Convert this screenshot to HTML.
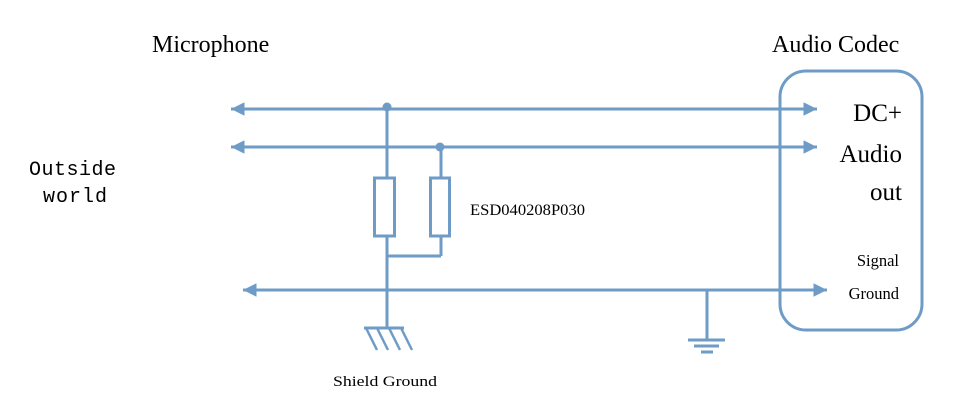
<!DOCTYPE html>
<html><head><meta charset="utf-8"><style>
html,body{margin:0;padding:0;background:#fff;width:957px;height:406px;overflow:hidden}
</style></head><body>
<svg width="957" height="406" viewBox="0 0 957 406" xmlns="http://www.w3.org/2000/svg">
<defs>
<marker id="a" viewBox="0 0 10 10" refX="10" refY="5" markerWidth="5" markerHeight="4.5" orient="auto-start-reverse" markerUnits="strokeWidth"><path d="M0,0 L10,5 L0,10 z" fill="#6f9cc6"/></marker>
</defs>
<g stroke="#6f9cc6" stroke-width="3" fill="none">
<line x1="231" y1="109" x2="817" y2="109" marker-start="url(#a)" marker-end="url(#a)"/>
<line x1="231" y1="147" x2="817" y2="147" marker-start="url(#a)" marker-end="url(#a)"/>
<line x1="243" y1="290" x2="827" y2="290" marker-start="url(#a)" marker-end="url(#a)"/>
<rect x="780" y="71" width="142" height="259" rx="26"/>
<line x1="387" y1="108" x2="387" y2="178"/>
<line x1="441" y1="147" x2="441" y2="178"/>
<rect x="374.5" y="178" width="20" height="58"/>
<rect x="430.5" y="178" width="19" height="58"/>
<line x1="387" y1="236" x2="387" y2="328"/>
<line x1="441" y1="236" x2="441" y2="256"/>
<line x1="387" y1="256" x2="441" y2="256"/>
<line x1="364" y1="328" x2="404" y2="328"/>
<g stroke-width="2.5">
<line x1="366" y1="328" x2="377" y2="350"/>
<line x1="377" y1="328" x2="388" y2="350"/>
<line x1="389" y1="328" x2="400" y2="350"/>
<line x1="401" y1="328" x2="412" y2="350"/>
</g>
<line x1="707" y1="290" x2="707" y2="340"/>
<line x1="688" y1="340" x2="725" y2="340"/>
<line x1="694" y1="346" x2="719" y2="346"/>
<line x1="701" y1="352" x2="713" y2="352"/>
</g>
<circle cx="387" cy="107" r="4.5" fill="#6f9cc6"/>
<circle cx="440" cy="147" r="4.5" fill="#6f9cc6"/>
<g font-family="'Liberation Serif',serif" fill="#000">
<text x="152" y="52" font-size="24">Microphone</text>
<text x="772" y="52" font-size="24">Audio Codec</text>
<text x="902" y="121" font-size="25" text-anchor="end">DC+</text>
<text x="902" y="162" font-size="25" text-anchor="end">Audio</text>
<text x="902" y="200" font-size="25" text-anchor="end">out</text>
<text x="899" y="266" font-size="16.5" text-anchor="end">Signal</text>
<text x="899" y="299" font-size="16.5" text-anchor="end">Ground</text>
<text x="470" y="215" font-size="16" textLength="115" lengthAdjust="spacingAndGlyphs">ESD040208P030</text>
<text x="333" y="386" font-size="15" textLength="104" lengthAdjust="spacingAndGlyphs">Shield Ground</text>
</g>
<g font-family="'Liberation Mono',monospace" fill="#000" font-size="20">
<text x="29" y="175" textLength="87">Outside</text>
<text x="43" y="202" textLength="64">world</text>
</g>
</svg>
</body></html>
